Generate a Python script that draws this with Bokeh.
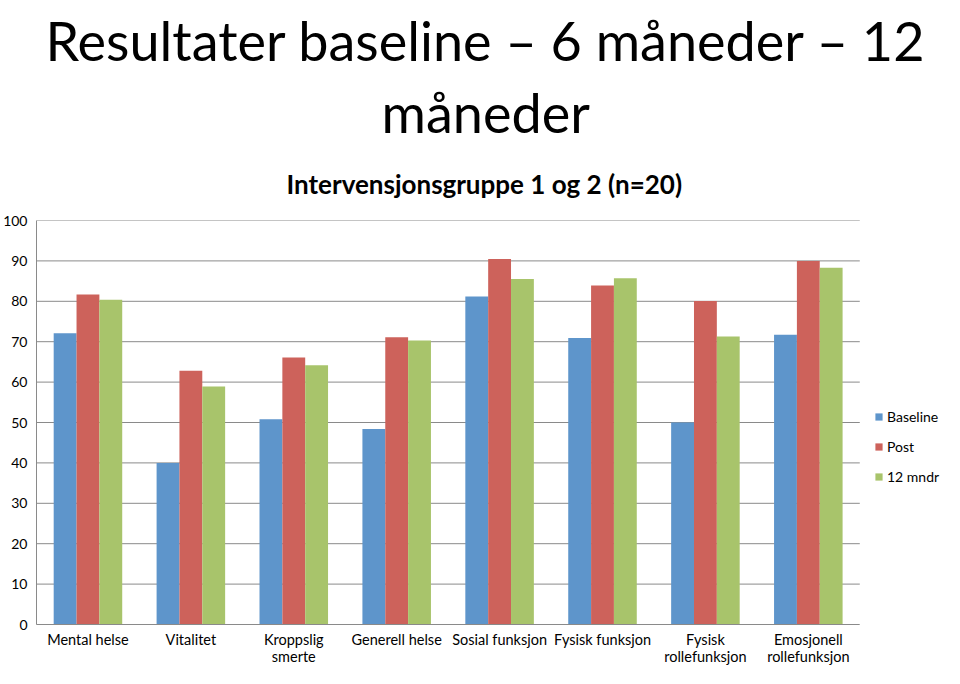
from bokeh.plotting import figure
from bokeh.models import ColumnDataSource, Range1d, Legend, LegendItem, FixedTicker, Title
from bokeh.transform import dodge
from bokeh.embed import file_html
from bokeh.resources import INLINE

categories = ["Mental helse", "Vitalitet", "Kroppslig\nsmerte", "Generell helse",
              "Sosial funksjon", "Fysisk funksjon", "Fysisk\nrollefunksjon", "Emosjonell\nrollefunksjon"]
baseline = [72.1, 40.0, 50.8, 48.4, 81.2, 70.9, 50.0, 71.7]
post = [81.7, 62.8, 66.1, 71.1, 90.5, 83.9, 80.1, 90.0]
mndr12 = [80.4, 58.9, 64.2, 70.3, 85.5, 85.7, 71.3, 88.3]
series_names = ["Baseline", "Post", "12 mndr"]
y_ticks = [0, 10, 20, 30, 40, 50, 60, 70, 80, 90, 100]

title_line1 = "Resultater baseline \u2013 6 m\u00e5neder \u2013 12"
title_line2 = "m\u00e5neder"
subtitle = "Intervensjonsgruppe 1 og 2 (n=20)"

colors = ["#5E95CB", "#CD625B", "#A8C46B"]
FONT = "Lato"

W, H = 944, 668
B_LEFT = 33
CAT_AREA_PX = 826          # width of the category area of the plot frame
FRAME_W = W - B_LEFT
n = len(categories)
x_pos = list(range(n))
x_end = FRAME_W * n / CAT_AREA_PX - 0.5

src = ColumnDataSource(dict(x=x_pos, baseline=baseline, post=post, mndr12=mndr12))

p = figure(width=W, height=H, x_range=Range1d(-0.5, x_end), y_range=Range1d(0, 100),
           output_backend="svg", toolbar_location=None,
           min_border_left=B_LEFT, min_border_right=0,
           min_border_top=0, min_border_bottom=40)

def set_standoff(t, v):
    try:
        t.standoff = v
    except ValueError:
        t.standoff = 0

# titles: p.title is outermost; added titles stack outward from the frame
p.title.text = title_line1
p.title.text_font = FONT
p.title.text_font_size = "54px"
p.title.text_font_style = "normal"
p.title.text_color = "#000000"
p.title.align = "left"
p.title.offset = 9
set_standoff(p.title, 10)

t_sub = Title(text=subtitle, text_font=FONT, text_font_size="26px",
              text_font_style="bold", text_color="#000000", align="left", offset=250)
set_standoff(t_sub, 42)
p.add_layout(t_sub, "above")
t_l2 = Title(text=title_line2, text_font=FONT, text_font_size="54px",
             text_font_style="normal", text_color="#000000", align="left", offset=345)
set_standoff(t_l2, 0)
p.add_layout(t_l2, "above")

# horizontal grid lines limited to the category area
p.segment(x0=-0.5, x1=n - 0.5, y0=y_ticks, y1=y_ticks, line_color="#8A8A8A", line_width=1)

bw = 0.222
r0 = p.vbar(x=dodge("x", -bw), top="baseline", width=bw, source=src,
            fill_color=colors[0], line_color=None)
r1 = p.vbar(x=dodge("x", 0), top="post", width=bw, source=src,
            fill_color=colors[1], line_color=None)
r2 = p.vbar(x=dodge("x", bw), top="mndr12", width=bw, source=src,
            fill_color=colors[2], line_color=None)

p.outline_line_color = None
p.grid.visible = False
p.yaxis.ticker = FixedTicker(ticks=y_ticks)
p.xaxis.ticker = FixedTicker(ticks=x_pos)
p.xaxis.major_label_overrides = {i: c for i, c in zip(x_pos, categories)}
p.xaxis.bounds = (-0.5, n - 0.5)

for ax in (p.xaxis, p.yaxis):
    ax.axis_line_color = "#8A8A8A"
    ax.major_tick_line_color = None
    ax.minor_tick_line_color = None
    ax.major_tick_out = 0
    ax.major_tick_in = 0
    ax.minor_tick_out = 0
    ax.minor_tick_in = 0
    ax.major_label_text_font = FONT
    ax.major_label_text_color = "#000000"
p.yaxis.major_label_text_font_size = "14px"
p.xaxis.major_label_text_font_size = "14.5px"
p.xaxis.major_label_text_line_height = 1.05
p.yaxis.major_label_standoff = 9
p.xaxis.major_label_standoff = 6

legend = Legend(items=[LegendItem(label=series_names[0], renderers=[r0]),
                       LegendItem(label=series_names[1], renderers=[r1]),
                       LegendItem(label=series_names[2], renderers=[r2])],
                location=(CAT_AREA_PX + 12, 138), orientation="vertical",
                label_text_font=FONT, label_text_font_size="14px", label_text_color="#000000",
                glyph_width=9, glyph_height=9, label_height=20, spacing=10,
                padding=4, margin=0, border_line_color=None, background_fill_alpha=0,
                label_standoff=4)
p.add_layout(legend, "center")

open("out.html", "w").write(file_html(p, INLINE))
